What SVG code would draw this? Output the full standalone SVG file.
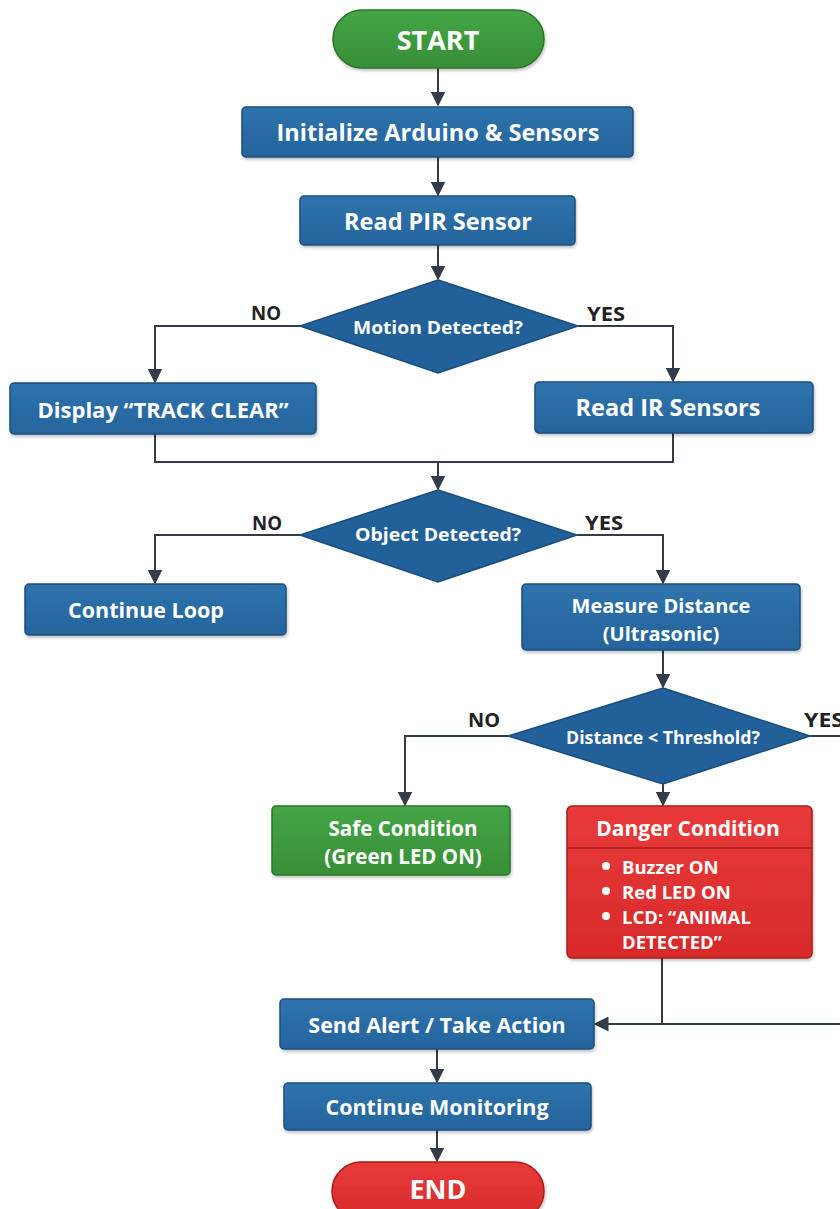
<svg xmlns="http://www.w3.org/2000/svg" width="840" height="1209" viewBox="0 0 840 1209">
<defs>
<linearGradient id="gb" x1="0" y1="0" x2="0" y2="1"><stop offset="0" stop-color="#2f73ad"/><stop offset="1" stop-color="#25649c"/></linearGradient>
<linearGradient id="gg" x1="0" y1="0" x2="0" y2="1"><stop offset="0" stop-color="#45a545"/><stop offset="1" stop-color="#378f37"/></linearGradient>
<linearGradient id="gr" x1="0" y1="0" x2="0" y2="1"><stop offset="0" stop-color="#e83a3a"/><stop offset="1" stop-color="#d82a2a"/></linearGradient>
<filter id="sh" x="-10%" y="-10%" width="120%" height="130%"><feDropShadow dx="1" dy="2" stdDeviation="1.5" flood-color="#000" flood-opacity="0.25"/></filter>
<marker id="ah" viewBox="0 0 10 10" refX="9" refY="5" markerWidth="15" markerHeight="15" markerUnits="userSpaceOnUse" orient="auto"><path d="M0,0 L10,5 L0,10 z" fill="#333c48"/></marker>
<style>
.blue{fill:url(#gb);stroke:#1d4f7e;stroke-width:1.5;filter:url(#sh)}
.green{fill:url(#gg);stroke:#2a752a;stroke-width:1.5;filter:url(#sh)}
.red{fill:url(#gr);stroke:#a81e1e;stroke-width:1.5;filter:url(#sh)}
.dia{fill:#22609a;stroke:#1a4c7c;stroke-width:1.5}
.t{font-family:"Open Sans","Liberation Sans",sans-serif;font-weight:700;fill:#ffffff;text-anchor:middle;dominant-baseline:central}
.td{font-family:"Open Sans","Liberation Sans",sans-serif;font-weight:700;fill:#ffffff;text-anchor:middle;dominant-baseline:central;font-size:18px}
.tl{font-family:"Open Sans","Liberation Sans",sans-serif;font-weight:700;fill:#ffffff;font-size:18.5px;dominant-baseline:central}
.lab{font-family:"Open Sans","Liberation Sans",sans-serif;font-weight:700;fill:#222;font-size:19px;text-anchor:middle;dominant-baseline:central}
.c{fill:none;stroke:#333c48;stroke-width:2}
</style>
</defs>
<g id="connectors">
<path class="c" d="M438,68 V105" marker-end="url(#ah)"/>
<path class="c" d="M438,157 V195" marker-end="url(#ah)"/>
<path class="c" d="M438,245 V279" marker-end="url(#ah)"/>
<path class="c" d="M300,326 H155 V382" marker-end="url(#ah)"/>
<path class="c" d="M578,326 H673 V381" marker-end="url(#ah)"/>
<path class="c" d="M155,434 V462 H673 V433"/>
<path class="c" d="M438,462 V489" marker-end="url(#ah)"/>
<path class="c" d="M300,535 H155 V583" marker-end="url(#ah)"/>
<path class="c" d="M577,535 H663 V583" marker-end="url(#ah)"/>
<path class="c" d="M663,650 V687" marker-end="url(#ah)"/>
<path class="c" d="M508,736 H405 V805" marker-end="url(#ah)"/>
<path class="c" d="M663,784 V805" marker-end="url(#ah)"/>
<path class="c" d="M810,736 H842"/>
<path class="c" d="M662,958 V1024"/>
<path class="c" d="M842,1024 H595" marker-end="url(#ah)"/>
<path class="c" d="M437,1049 V1082" marker-end="url(#ah)"/>
<path class="c" d="M437,1130 V1161" marker-end="url(#ah)"/>
</g>
<g id="start"><rect class="green" x="333" y="10" width="211" height="58" rx="29"/><text class="t" x="438" y="39" font-size="27">START</text></g>
<g id="init"><rect class="blue" x="242" y="107" width="391" height="50" rx="4"/><text class="t" x="438" y="132" font-size="23.5">Initialize Arduino &amp; Sensors</text></g>
<g id="readpir"><rect class="blue" x="300" y="196" width="275" height="49" rx="4"/><text class="t" x="438" y="221" font-size="23.5">Read PIR Sensor</text></g>
<g id="motion"><polygon class="dia" points="438,280 578,326 438,373 300,326"/><text class="td" x="438" y="327" textLength="170" lengthAdjust="spacingAndGlyphs">Motion Detected?</text></g>
<text class="lab" x="266" y="313" textLength="30" lengthAdjust="spacingAndGlyphs">NO</text>
<text class="lab" x="606" y="314" textLength="38" lengthAdjust="spacingAndGlyphs">YES</text>
<g id="display"><rect class="blue" x="10" y="383" width="306" height="51" rx="4"/><text class="t" x="163" y="409" font-size="22">Display “TRACK CLEAR”</text></g>
<g id="readir"><rect class="blue" x="535" y="382" width="278" height="51" rx="4"/><text class="t" x="668" y="407" font-size="23.5">Read IR Sensors</text></g>
<g id="object"><polygon class="dia" points="438,490 577,535 438,582 300,535"/><text class="td" x="438" y="534" textLength="166" lengthAdjust="spacingAndGlyphs">Object Detected?</text></g>
<text class="lab" x="267" y="523" textLength="30" lengthAdjust="spacingAndGlyphs">NO</text>
<text class="lab" x="604" y="523" textLength="38" lengthAdjust="spacingAndGlyphs">YES</text>
<g id="loop"><rect class="blue" x="25" y="584" width="261" height="51" rx="4"/><text class="t" x="146" y="609" font-size="21.5">Continue Loop</text></g>
<g id="measure"><rect class="blue" x="522" y="584" width="278" height="66" rx="4"/><text class="t" x="661" y="605" font-size="20">Measure Distance</text><text class="t" x="661" y="633" font-size="20">(Ultrasonic)</text></g>
<g id="distance"><polygon class="dia" points="663,688 810,736 663,784 508,736"/><text class="td" x="663" y="737" textLength="194" lengthAdjust="spacingAndGlyphs">Distance &lt; Threshold?</text></g>
<text class="lab" x="484" y="720" textLength="32" lengthAdjust="spacingAndGlyphs">NO</text>
<text class="lab" x="824" y="720" textLength="40" lengthAdjust="spacingAndGlyphs">YES</text>
<g id="safe"><rect class="green" x="272" y="806" width="238" height="69" rx="4"/><text class="t" x="403" y="828" font-size="20.5">Safe Condition</text><text class="t" x="403" y="856" font-size="20.5">(Green LED ON)</text></g>
<g id="danger"><rect class="red" x="567" y="806" width="245" height="152" rx="5"/><line x1="567" y1="848" x2="812" y2="848" stroke="#a81e1e" stroke-width="1.5"/><text class="t" x="688" y="828" font-size="21">Danger Condition</text>
<circle cx="606" cy="866" r="4" fill="#fff"/><text class="tl" x="622" y="866">Buzzer ON</text>
<circle cx="606" cy="891" r="4" fill="#fff"/><text class="tl" x="622" y="891">Red LED ON</text>
<circle cx="606" cy="916" r="4" fill="#fff"/><text class="tl" x="622" y="916">LCD: “ANIMAL</text>
<text class="tl" x="622" y="941">DETECTED”</text></g>
<g id="send"><rect class="blue" x="280" y="999" width="314" height="50" rx="4"/><text class="t" x="437" y="1024" font-size="21.5">Send Alert / Take Action</text></g>
<g id="monitor"><rect class="blue" x="284" y="1083" width="307" height="47" rx="4"/><text class="t" x="437" y="1106" font-size="21.5">Continue Monitoring</text></g>
<g id="end"><rect class="red" x="332" y="1162" width="212" height="58" rx="29"/><text class="t" x="438" y="1188" font-size="27">END</text></g>
</svg>
